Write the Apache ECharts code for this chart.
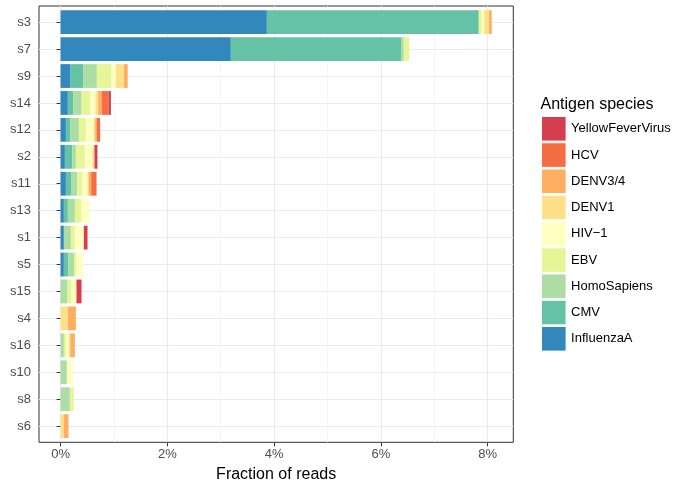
<!DOCTYPE html>
<html>
<head>
<meta charset="utf-8">
<script src="https://cdn.jsdelivr.net/npm/echarts@6/dist/echarts.min.js"></script>
<style>
html,body{margin:0;padding:0;background:#fff;}
#chart{width:676px;height:491px;}
</style>
</head>
<body>
<div id="chart"></div>
<script>
// Categories, top to bottom
const samples = ['s3','s7','s9','s14','s12','s2','s11','s13','s1','s5','s15','s4','s16','s10','s8','s6'];

// Fraction of reads (%) per antigen species, in sample order
const influenzaA = [3.865, 3.19, 0.187, 0.137, 0.100, 0.081, 0.100, 0.062, 0.062, 0.062, 0, 0, 0, 0, 0, 0];
const cmv        = [3.970, 3.19, 0.236, 0.100, 0.087, 0.137, 0.106, 0.075, 0, 0.081, 0, 0, 0, 0, 0, 0];
const homoSapiens= [0, 0.05, 0.256, 0.156, 0.156, 0.069, 0.106, 0.131, 0.131, 0.112, 0.131, 0, 0.062, 0.118, 0.174, 0];
const ebv        = [0.056, 0.10, 0.275, 0.162, 0.131, 0.168, 0.093, 0.125, 0.075, 0.044, 0.075, 0, 0.044, 0, 0.075, 0];
const hiv1       = [0.044, 0, 0.080, 0.100, 0.150, 0.143, 0.100, 0.143, 0.168, 0.118, 0.075, 0, 0.050, 0.112, 0, 0];
const denv1      = [0.093, 0, 0.155, 0.050, 0.025, 0.037, 0.025, 0, 0, 0, 0.019, 0.137, 0.025, 0, 0, 0.062];
const denv34     = [0.050, 0, 0.069, 0.069, 0.031, 0, 0.044, 0, 0, 0, 0, 0.150, 0.087, 0, 0, 0.087];
const hcv        = [0, 0, 0, 0.125, 0.062, 0, 0.100, 0, 0, 0, 0, 0, 0, 0, 0, 0];
const yfv        = [0, 0, 0, 0.044, 0, 0.056, 0, 0, 0.069, 0, 0.093, 0, 0, 0, 0, 0];

const speciesNames = ['InfluenzaA','CMV','HomoSapiens','EBV','HIV\u22121','DENV1','DENV3/4','HCV','YellowFeverVirus'];
const speciesData  = [influenzaA, cmv, homoSapiens, ebv, hiv1, denv1, denv34, hcv, yfv];
const speciesColors= ['#3288BD','#66C2A5','#ABDDA4','#E6F598','#FFFFBF','#FEE08B','#FDAE61','#F46D43','#D53E4F'];

const majorTicks = [0, 2, 4, 6, 8];
const minorTicks = [1, 3, 5, 7];
const xTitle = 'Fraction of reads';
const legendTitle = 'Antigen species';

const FONT = '"Liberation Sans", Arial, Helvetica, sans-serif';
const xMin = -0.404, xMax = 8.482;
const nCat = samples.length;
const catPositions = samples.map((_, i) => i + 1);

const chart = echarts.init(document.getElementById('chart'), null, {renderer: 'canvas'});

const series = speciesNames.map((name, i) => ({
  name: name,
  type: 'bar',
  stack: 'total',
  xAxisIndex: 1,
  yAxisIndex: 1,
  barWidth: 23.8,
  data: speciesData[i].map(v => (v === 0 ? null : v)),
  itemStyle: {color: speciesColors[i]},
  emphasis: {disabled: true},
  animation: false
}));

const option = {
  animation: false,
  textStyle: {fontFamily: FONT},
  grid: [
    {left: 39, right: 162.7, top: 6, bottom: 48.7, show: true, borderColor: '#333333', borderWidth: 1, backgroundColor: '#ffffff', containLabel: false},
    {left: 39, right: 162.7, top: 8.69, bottom: 51.4, containLabel: false}
  ],
  xAxis: [
    {
      type: 'value', gridIndex: 0, min: xMin, max: xMax,
      name: xTitle, nameLocation: 'middle', nameGap: 22,
      nameTextStyle: {color: '#000000', fontSize: 16, fontFamily: FONT},
      axisLine: {show: false},
      axisTick: {show: true, length: 4, lineStyle: {color: '#333333', width: 1}, customValues: majorTicks},
      axisLabel: {show: true, color: '#4D4D4D', fontSize: 13, margin: 6, fontFamily: FONT, customValues: majorTicks, formatter: '{value}%'},
      splitLine: {show: true, lineStyle: {color: '#EBEBEB', width: 1.1}}
    },
    {
      type: 'value', gridIndex: 1, min: xMin, max: xMax, show: false
    },
    {
      type: 'value', gridIndex: 0, min: xMin, max: xMax,
      axisLine: {show: false},
      axisTick: {show: false, customValues: minorTicks},
      axisLabel: {show: false, customValues: minorTicks},
      splitLine: {show: true, lineStyle: {color: '#F2F2F2', width: 0.8}}
    }
  ],
  yAxis: [
    {
      type: 'value', gridIndex: 0, min: 0.4, max: nCat + 0.6, inverse: true,
      axisLine: {show: false},
      axisTick: {show: false, customValues: catPositions},
      axisLabel: {show: false, customValues: catPositions},
      splitLine: {show: true, lineStyle: {color: '#EBEBEB', width: 1.1}}
    },
    {
      type: 'category', gridIndex: 1, data: samples, inverse: true,
      axisLine: {show: false},
      axisTick: {show: true, alignWithLabel: true, length: 4, lineStyle: {color: '#333333', width: 1}},
      axisLabel: {color: '#4D4D4D', fontSize: 13, margin: 8, fontFamily: FONT},
      splitLine: {show: false}
    }
  ],
  legend: {
    orient: 'vertical',
    left: 541, top: 116,
    padding: 0,
    itemWidth: 24.6, itemHeight: 24.6, itemGap: 0.65,
    icon: 'rect',
    itemStyle: {borderColor: '#ffffff', borderWidth: 1},
    data: speciesNames.slice().reverse(),
    textStyle: {color: '#000000', fontSize: 13, fontFamily: FONT},
    selectedMode: false
  },
  graphic: [
    {type: 'text', left: 540.5, top: 96.5, style: {text: legendTitle, fill: '#000000', font: '16px ' + FONT}}
  ],
  series: series
};

chart.setOption(option);
</script>
</body>
</html>
